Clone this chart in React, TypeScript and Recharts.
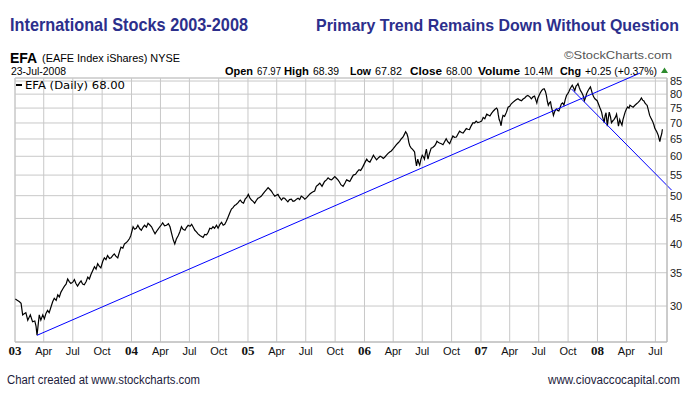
import React from 'react';
import { LineChart, Line, XAxis, YAxis, CartesianGrid, ReferenceLine } from 'recharts';

// EFA daily close (date "MM-DD", close)
const efa2003: [string, number][] = [
  ["01-02",31.0],["01-08",30.8],["01-15",30.6],["01-20",30.4],["01-25",28.8],["02-04",29.1],["02-10",28.1],["02-18",28.8],["02-25",27.9],["03-04",28.0],["03-08",27.3],["03-11",26.2],["03-18",28.8],["03-23",28.1],["03-29",28.8],["04-03",28.3],["04-08",29.0],["04-13",29.4],["04-18",29.1],["04-24",29.9],["04-29",30.6],["05-04",31.1],["05-10",30.8],["05-15",31.6],["05-20",31.3],["05-25",32.0],["05-31",32.5],["06-05",32.9],["06-10",33.2],["06-15",34.0],["06-20",33.6],["06-25",33.3],["07-01",33.5],["07-06",33.9],["07-11",33.3],["07-16",32.9],["07-22",33.4],["07-27",33.7],["08-01",33.2],["08-06",33.1],["08-12",33.6],["08-17",34.3],["08-22",34.0],["08-27",34.7],["09-02",35.4],["09-07",36.0],["09-12",35.6],["09-17",36.5],["09-22",36.1],["09-27",35.8],["10-03",36.9],["10-08",37.5],["10-13",37.2],["10-18",37.9],["10-24",37.4],["10-29",37.5],["11-03",37.9],["11-08",38.2],["11-13",37.8],["11-19",37.5],["11-24",38.5],["11-29",39.4],["12-05",39.2],["12-10",40.0],["12-15",40.2],["12-20",40.5],["12-26",41.0],["12-30",41.6],
];
const efa2004: [string, number][] = [
  ["01-06",43.3],["01-11",42.8],["01-16",43.0],["01-21",43.6],["01-27",42.9],["02-01",42.6],["02-06",43.2],["02-11",43.6],["02-17",43.2],["02-22",44.0],["02-27",43.7],["03-04",43.3],["03-10",42.5],["03-15",41.9],["03-22",42.6],["03-30",43.3],["04-04",43.7],["04-08",44.1],["04-14",43.5],["04-20",43.6],["04-26",43.9],["05-01",43.3],["05-06",42.0],["05-11",40.8],["05-16",40.0],["05-21",40.9],["05-27",41.6],["06-01",42.3],["06-06",43.3],["06-11",42.8],["06-17",42.6],["06-22",43.2],["06-27",43.6],["07-03",43.4],["07-08",43.8],["07-13",43.2],["07-18",42.6],["07-23",42.3],["07-28",41.9],["08-03",41.6],["08-08",41.4],["08-13",41.2],["08-18",41.8],["08-24",41.7],["08-29",42.2],["09-03",43.0],["09-08",42.9],["09-13",43.3],["09-18",43.0],["09-24",43.6],["09-29",43.0],["10-05",43.8],["10-10",44.2],["10-15",43.6],["10-20",43.8],["10-25",44.4],["10-30",45.2],["11-05",46.2],["11-10",47.0],["11-15",47.3],["11-20",47.8],["11-25",48.0],["12-01",48.4],["12-05",48.8],["12-08",49.0],["12-13",48.5],["12-18",48.3],["12-23",49.2],["12-28",49.6],
];
const efa2005: [string, number][] = [
  ["01-02",50.3],["01-07",49.5],["01-12",49.0],["01-17",48.7],["01-22",48.3],["01-27",48.9],["02-01",49.4],["02-06",49.6],["02-12",49.9],["02-17",50.4],["02-22",50.9],["02-28",51.4],["03-05",51.9],["03-10",51.5],["03-15",51.1],["03-20",50.5],["03-26",49.9],["03-31",50.1],["04-05",50.3],["04-10",49.6],["04-16",49.0],["04-21",49.5],["04-26",49.4],["05-01",49.0],["05-06",48.6],["05-11",49.1],["05-17",49.2],["05-22",48.7],["05-27",48.8],["06-02",49.2],["06-07",49.4],["06-12",49.1],["06-17",49.9],["06-23",49.6],["06-28",49.2],["07-03",49.5],["07-08",49.9],["07-14",50.4],["07-19",50.7],["07-24",50.9],["07-29",51.1],["08-03",52.2],["08-09",52.6],["08-14",53.0],["08-21",52.2],["08-25",52.8],["08-29",53.4],["09-04",53.8],["09-09",54.3],["09-15",53.9],["09-20",53.8],["09-25",54.2],["09-30",54.6],["10-05",54.2],["10-10",53.8],["10-15",53.2],["10-19",52.6],["10-26",52.2],["11-01",53.0],["11-06",53.8],["11-11",53.6],["11-16",53.4],["11-22",54.3],["11-27",55.0],["12-04",55.2],["12-09",55.8],["12-15",56.4],["12-20",56.2],["12-26",57.0],
];
const efa2006: [string, number][] = [
  ["01-03",58.4],["01-08",59.2],["01-13",58.6],["01-18",58.4],["01-24",59.4],["01-29",60.3],["02-03",59.6],["02-08",59.0],["02-14",59.6],["02-19",60.0],["02-24",59.8],["03-01",59.4],["03-06",59.8],["03-11",60.3],["03-16",60.8],["03-21",61.2],["03-26",61.5],["03-31",62.0],["04-05",62.6],["04-11",63.3],["04-16",63.8],["04-21",64.3],["04-26",65.0],["05-02",65.6],["05-06",66.4],["05-10",67.2],["05-14",66.6],["05-17",65.6],["05-20",64.0],["05-23",63.0],["05-27",62.4],["05-31",62.0],["06-04",61.6],["06-07",61.2],["06-10",59.0],["06-13",57.4],["06-17",59.2],["06-20",58.2],["06-23",57.6],["06-27",59.2],["07-01",60.3],["07-05",59.8],["07-08",59.2],["07-11",60.8],["07-14",62.0],["07-17",60.2],["07-19",59.2],["07-23",60.6],["07-29",62.3],["08-03",62.5],["08-09",63.0],["08-13",63.6],["08-16",64.3],["08-20",64.0],["08-24",63.8],["08-30",63.6],["09-04",63.3],["09-09",64.2],["09-14",65.1],["09-19",64.2],["09-25",63.6],["09-30",64.8],["10-05",65.9],["10-10",65.5],["10-16",65.6],["10-21",66.5],["10-26",67.4],["11-01",67.0],["11-06",66.8],["11-11",67.5],["11-16",68.2],["11-21",68.0],["11-26",67.9],["12-01",69.0],["12-07",70.1],["12-12",70.0],["12-17",70.6],["12-22",70.1],["12-28",70.3],
];
const efa2007: [string, number][] = [
  ["01-03",70.6],["01-08",71.8],["01-13",71.4],["01-19",72.9],["01-24",72.6],["01-29",72.3],["02-03",73.2],["02-09",74.0],["02-14",74.6],["02-19",75.0],["02-22",74.4],["02-24",72.9],["02-27",71.1],["03-02",70.4],["03-05",69.1],["03-08",71.2],["03-11",72.5],["03-16",72.2],["03-22",73.6],["03-27",75.3],["04-01",75.6],["04-06",76.5],["04-11",77.0],["04-17",77.6],["04-22",78.0],["04-27",78.3],["05-02",77.9],["05-08",77.6],["05-13",78.2],["05-18",78.6],["05-23",79.2],["05-28",79.5],["06-03",79.0],["06-08",78.3],["06-13",79.0],["06-18",79.3],["06-22",77.8],["06-25",76.8],["06-28",78.4],["07-02",79.5],["07-06",80.5],["07-10",81.3],["07-14",81.8],["07-18",82.0],["07-22",81.0],["07-25",79.5],["07-28",77.4],["07-31",76.0],["08-04",76.9],["08-07",77.2],["08-10",75.2],["08-13",74.0],["08-16",72.5],["08-20",73.8],["08-25",74.7],["08-29",74.2],["09-02",74.0],["09-06",75.2],["09-10",76.5],["09-14",76.8],["09-18",76.0],["09-22",78.0],["09-26",79.5],["09-30",80.2],["10-03",80.8],["10-07",81.9],["10-11",82.8],["10-14",83.4],["10-18",82.4],["10-22",81.3],["10-26",83.0],["10-29",83.4],["11-01",84.0],["11-05",82.5],["11-09",81.3],["11-13",80.5],["11-17",79.5],["11-21",77.6],["11-25",78.8],["11-28",80.2],["12-02",81.2],["12-06",82.0],["12-10",82.7],["12-13",81.5],["12-16",80.2],["12-20",79.0],["12-24",78.3],["12-31",77.6],
];
const efa2008: [string, number][] = [
  ["01-04",76.5],["01-08",75.3],["01-11",74.5],["01-14",73.6],["01-17",72.0],["01-22",70.1],["01-25",72.4],["01-28",73.4],["02-01",69.0],["02-04",71.5],["02-07",73.6],["02-11",72.0],["02-14",70.1],["02-19",70.8],["02-22",71.1],["02-27",72.0],["03-01",72.9],["03-04",71.0],["03-07",69.0],["03-11",71.1],["03-14",70.2],["03-18",69.3],["03-21",71.0],["03-25",72.5],["03-28",73.6],["04-01",74.7],["04-05",75.4],["04-09",75.0],["04-12",76.0],["04-17",75.6],["04-22",75.3],["04-27",75.9],["05-03",76.5],["05-08",77.0],["05-13",77.6],["05-18",78.6],["05-22",77.8],["05-26",77.5],["05-29",76.8],["06-02",76.3],["06-05",76.0],["06-09",74.3],["06-13",72.5],["06-17",71.6],["06-22",70.6],["06-26",69.5],["06-29",68.4],["07-02",67.8],["07-05",67.3],["07-08",66.6],["07-10",66.1],["07-15",64.2],["07-18",65.6],["07-21",66.6],["07-23",68.0],
];

// Trend lines drawn on the chart: [date, price]
const trendUp: [string, number][] = [["2003-03-11", 26.2], ["2008-05-14", 88.2]];
const trendDown: [string, number][] = [["2007-10-12", 81.9], ["2008-08-21", 51.3]];

// Axes
const yTicks = [30, 35, 40, 45, 50, 55, 60, 65, 70, 75, 80, 85];
const yDomain: [number, number] = [25.4, 86.2];
const xTickDates = [
  "2003-01-01","2003-04-01","2003-07-01","2003-10-01",
  "2004-01-01","2004-04-01","2004-07-01","2004-10-01",
  "2005-01-01","2005-04-01","2005-07-01","2005-10-01",
  "2006-01-01","2006-04-01","2006-07-01","2006-10-01",
  "2007-01-01","2007-04-01","2007-07-01","2007-10-01",
  "2008-01-01","2008-04-01","2008-07-01",
];
const xTickLabels = [
  "03","Apr","Jul","Oct","04","Apr","Jul","Oct","05","Apr","Jul","Oct",
  "06","Apr","Jul","Oct","07","Apr","Jul","Oct","08","Apr","Jul",
];
const xDomain: [number, number] = [2003.0, 2008.597];

// Header quote row: [label, value]
const quoteRow: [string, string][] = [
  ["Open", "67.97"], ["High", "68.39"], ["Low", "67.82"], ["Close", "68.00"], ["Volume", "10.4M"], ["Chg", "+0.25 (+0.37%)"],
];

function toYear(d: string): number {
  const [y, m, day] = d.split('-').map(Number);
  const start = Date.UTC(y, 0, 1);
  const end = Date.UTC(y + 1, 0, 1);
  return y + (Date.UTC(y, m - 1, day) - start) / (end - start);
}

const yearSets: [number, [string, number][]][] = [
  [2003, efa2003], [2004, efa2004], [2005, efa2005], [2006, efa2006], [2007, efa2007], [2008, efa2008],
];
const efaData = yearSets.flatMap(([yr, arr]) => arr.map(([md, v]) => ({ t: toYear(`${yr}-${md}`), v })));
const xTickVals = xTickDates.map(toYear);

const seg = (s: [string, number][]) => s.map(([d, v]) => ({ x: toYear(d), y: v }));

const XTick = (props: any) => {
  const { x, y, index } = props;
  const label = xTickLabels[index] ?? '';
  const isYear = /^\d/.test(label);
  return (
    <text
      x={x}
      y={y + 13}
      textAnchor="middle"
      fontFamily={isYear ? "'Liberation Serif', serif" : "'Liberation Sans', Arial, sans-serif"}
      fontWeight={isYear ? 'bold' : 'normal'}
      fontSize={isYear ? 13 : 11}
      fill="#111"
    >
      {label}
    </text>
  );
};

const YTick = (props: any) => {
  const { x, y, payload } = props;
  return (
    <text x={x} y={y + 4} textAnchor="start" fontFamily="'Liberation Sans', Arial, sans-serif" fontSize={11} fill="#222">
      {payload.value}
    </text>
  );
};

const GRID = '#c8c8c8';
const NAVY = '#2c2f8c';

// layout of the quote row: [labelX, labelWidth, valueX, valueWidth]
const quoteLayout: [number, number, number, number][] = [
  [225, 28, 257, 24],
  [284, 25, 313, 26],
  [350, 21, 375, 27],
  [410, 32, 446, 26],
  [478, 42, 524, 29],
  [560, 21, 585, 72],
];

export default function App() {
  return (
    <div style={{ position: 'absolute', left: 0, top: 0, width: 693, height: 395, background: '#fff' }}>
      <LineChart width={693} height={395} data={efaData} margin={{ top: 78, right: 0, bottom: 33, left: 15 }}>
        <CartesianGrid stroke={GRID} strokeWidth={1} />
        <XAxis
          dataKey="t"
          type="number"
          domain={xDomain}
          ticks={xTickVals}
          allowDataOverflow
          interval={0}
          axisLine={{ stroke: '#b4b4b4' }}
          tickLine={false}
          tickSize={0}
          tickMargin={0}
          height={20}
          tick={<XTick />}
        />
        <YAxis
          orientation="right"
          type="number"
          scale="log"
          domain={yDomain}
          ticks={yTicks}
          allowDataOverflow
          interval={0}
          width={26}
          axisLine={{ stroke: '#b4b4b4' }}
          tickLine={false}
          tickSize={0}
          tickMargin={3}
          tick={<YTick />}
        />
        <ReferenceLine y={yDomain[1]} stroke={GRID} />
        <ReferenceLine x={xDomain[0]} stroke={GRID} />
        <Line
          type="linear"
          dataKey="v"
          stroke="#000"
          strokeWidth={1.2}
          dot={false}
          activeDot={false}
          isAnimationActive={false}
        />
        <ReferenceLine segment={seg(trendUp)} stroke="#0000ff" strokeWidth={1} ifOverflow="visible" />
        <ReferenceLine segment={seg(trendDown)} stroke="#0000ff" strokeWidth={1} ifOverflow="visible" />
      </LineChart>
      <svg width={693} height={395} style={{ position: 'absolute', left: 0, top: 0, pointerEvents: 'none' }}>
        <g fontFamily="'Liberation Sans Narrow', 'Liberation Sans', Arial, sans-serif" fill={NAVY} fontWeight="bold">
          <text x={10} y={31} fontSize={18.5} textLength={238} lengthAdjust="spacingAndGlyphs">International Stocks 2003-2008</text>
          <text x={679} y={31} fontSize={17} textAnchor="end" textLength={363} lengthAdjust="spacingAndGlyphs">Primary Trend Remains Down Without Question</text>
        </g>
        <g fontFamily="'Liberation Sans', Arial, sans-serif" fill="#000">
          <text x={10} y={63} fontSize={14} fontWeight="bold">EFA</text>
          <text x={42} y={62} fontSize={11} textLength={138} lengthAdjust="spacingAndGlyphs">(EAFE Index iShares) NYSE</text>
          <text x={11} y={75} fontSize={11} textLength={55} lengthAdjust="spacingAndGlyphs">23-Jul-2008</text>
          <text x={564} y={59} fontSize={11} fill="#555" textLength={108} lengthAdjust="spacingAndGlyphs">©StockCharts.com</text>
          {quoteRow.map(([label, value], i) => {
            const [lx, lw, vx, vw] = quoteLayout[i];
            return (
              <g key={label}>
                <text x={lx} y={75} fontSize={11.5} fontWeight="bold" textLength={lw} lengthAdjust="spacingAndGlyphs">{label}</text>
                <text x={vx} y={75} fontSize={11} textLength={vw} lengthAdjust="spacingAndGlyphs">{value}</text>
              </g>
            );
          })}
          <polygon points="661,73 668,73 664.5,67.5" fill="#2e8b2e" />
        </g>
        <g fontFamily="'DejaVu Sans', Verdana, sans-serif" fill="#000">
          <line x1={16} y1={85} x2={22} y2={85} stroke="#000" strokeWidth={2} />
          <text x={25} y={89} fontSize={10.5} textLength={100} lengthAdjust="spacingAndGlyphs">EFA (Daily) 68.00</text>
        </g>
        <g fontFamily="'Liberation Sans', Arial, sans-serif" fill="#1c1c3c" fontSize={12}>
          <text x={7} y={384} textLength={193} lengthAdjust="spacingAndGlyphs">Chart created at www.stockcharts.com</text>
          <text x={548} y={384} textLength={132} lengthAdjust="spacingAndGlyphs">www.ciovaccocapital.com</text>
        </g>
      </svg>
    </div>
  );
}
